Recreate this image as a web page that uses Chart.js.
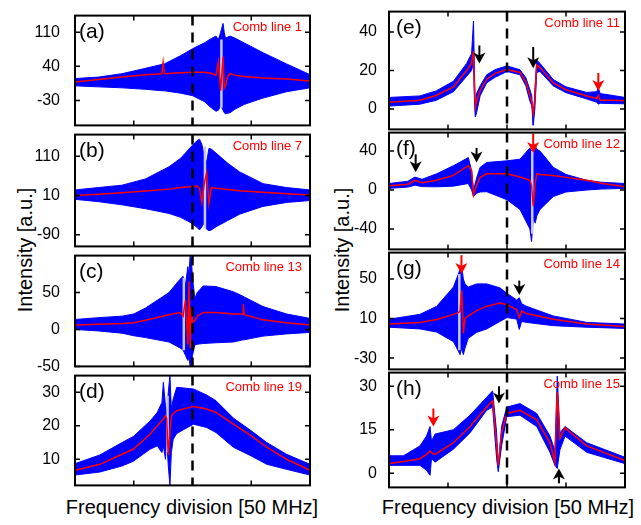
<!DOCTYPE html>
<html>
<head>
<meta charset="utf-8">
<script src="https://cdn.jsdelivr.net/npm/chart.js@4.4.1/dist/chart.umd.min.js"></script>
<style>
  body { margin: 0; background: #fff; width: 641px; height: 525px; overflow: hidden; position: relative;
         font-family: "Liberation Sans", Arial, sans-serif; }
  canvas { position: absolute; }
  .lbl { position: absolute; white-space: nowrap; font-size: 20px; color: #000; line-height: 24px; }
  .ylab { transform: translate(-50%, -50%) rotate(-90deg); }
  .xlab { transform: translateX(-50%); }
</style>
</head>
<body>
<div class="lbl ylab" style="left:25px; top:250px">Intensity [a.u.]</div>
<div class="lbl ylab" style="left:342px; top:250px">Intensity [a.u.]</div>
<div class="lbl xlab" style="left:192px; top:495px">Frequency division [50 MHz]</div>
<div class="lbl xlab" style="left:508px; top:495px">Frequency division [50 MHz]</div>
<script>
// x positions are in frequency divisions (0..100 across the panel), y in a.u.
// blue band = upper / lower envelope of the beat signal, red = averaged trace

// (a) comb line 1
const xA   = [0, 10, 20, 30, 37, 37.5, 38, 45, 50, 55, 58, 60, 61, 62, 63, 63.5, 64, 65, 66, 68, 72, 80, 90, 100];
const upA  = [15, 18, 25, 36, 44, 45, 45, 62, 76, 88, 97, 102, 95, 110, 128, 110, 98, 100, 102, 98, 88, 68, 45, 23];
const loA  = [0, -2, -4, -7, -10, -10, -10, -15, -20, -32, -45, -52, -50, -40, -50, -55, -57, -56, -55, -48, -38, -25, -12, -4];
const redA = [8, 13, 18, 23, 25, 48, 25, 27, 28, 28, 26, 22, 50, -10, 60, -5, 0, 20, 25, 22, 19, 16, 14, 10];

// (b) comb line 7
const xB   = [0, 10, 20, 30, 40, 45, 50, 52, 53, 54, 55, 56, 57, 58, 60, 65, 70, 80, 90, 100];
const upB  = [24, 30, 36, 52, 83, 105, 138, 150, 153, 140, 110, 95, 130, 128, 118, 92, 70, 40, 30, 24];
const loB  = [0, -6, -14, -24, -36, -46, -62, -72, -78, -70, -60, -76, -80, -78, -70, -54, -38, -18, -8, -3];
const redB = [10, 13, 17, 21, 26, 30, 33, 34, 28, -8, 40, 68, -10, 30, 28, 25, 22, 18, 14, 11];

// (c) comb line 13
const xC   = [0, 10, 20, 25, 30, 40, 44.7, 46, 47, 48, 48.5, 49, 49.5, 50, 51, 52, 54.6, 60, 67.4, 71.5, 71.6, 72, 80, 90, 100];
const upC  = [13.5, 16, 18, 21, 29, 50, 68, 72, 60, 85, 75, 100, 95, 70, 42, 50, 59, 58, 51, 45, 45, 44, 31, 21, 15];
const loC  = [0, -2, -5, -8.5, -11, -17, -25, -28, -35, -42, -38, -50, -50, -35, -21, -20, -19, -18, -17, -14, -14, -14, -9, -6, -4];
const redC = [6, 7, 8, 9, 12.5, 20, 23, 18, 40, -20, 65, -25, 30, 10, 12, 18, 23, 23, 21, 21, 34, 20, 13, 9, 6];

// (d) comb line 19
const xD   = [0, 10.6, 20, 24.8, 31.9, 35, 37, 37.6, 38.5, 39, 39.7, 40.4, 41, 41.8, 43.3, 50.4, 56, 60, 67.4, 75, 81.6, 90, 100];
const upD  = [8.7, 11.3, 15, 16.8, 21.4, 24, 27, 33, 26, 24, 30, 35, 25, 28, 31.5, 31, 29.2, 27.5, 22.3, 18.5, 15, 11.5, 8.5];
const loD  = [5.3, 6.2, 8, 9.4, 13, 14, 12, 14, 10, 16, 8, 2.2, 12, 16, 17.7, 20.5, 19.5, 18, 13.6, 11, 8.5, 7, 5.3];
const redD = [6.7, 8.5, 11.5, 13, 17.5, 20, 21.5, 22, 23, 22.3, 11.3, 18, 23, 23.7, 24.5, 25.8, 25, 24, 20.5, 17, 13.6, 10, 6.7];

// (e) comb line 11
const xE   = [0, 13.1, 20, 27.3, 32.9, 35, 35.8, 36.2, 36.6, 37.1, 38.6, 41.4, 45, 50, 55.5, 58, 59.7, 60.5, 61.1, 61.8, 62.6, 64, 69.6, 75, 83.8, 88, 88.7, 89.5, 95, 100];
const upE  = [6, 6.8, 9.4, 14.4, 23.7, 28.8, 45.7, 20, -4, 8, 12, 17.8, 20.5, 22.4, 20.4, 16.2, 10, 6.8, -8.4, 10, 25.4, 23.7, 15.3, 11.5, 8.6, 9, 11, 8, 7, 6];
const loE  = [1.5, 2.5, 4.5, 9, 17, 20, 24, 5, -4, -2, 6.8, 13.6, 16.5, 19.5, 17.8, 12, 4, 1.8, -8.4, 0, 19, 19.5, 12, 8.5, 5.2, 3.5, 2.5, 3, 2.8, 2.7];
const redE = [3.5, 4.5, 7, 11.5, 20, 24, 30, 12, 1, 4, 9.5, 15.5, 18.5, 20.5, 19, 14, 7, 4, -2, 5, 23, 21.5, 13.5, 10, 6.8, 5.5, 7, 4.5, 4.5, 4.3];

// (f) comb line 12
const xF   = [0, 8, 11, 14, 20.2, 27.3, 33.6, 35, 35.8, 37.1, 38.6, 41.4, 50, 55.5, 59.7, 60.4, 61.1, 62, 62.6, 64, 69.6, 75, 83.8, 90, 100];
const upF  = [6.7, 9, 13.3, 11, 16.7, 25, 33.3, 20, 0, 12, 23.3, 28.3, 30, 31.7, 43.3, 40, 35, 45, 42, 40, 23.3, 16, 10, 8, 6.7];
const loF  = [1.7, 3, 5, 3.5, 3.3, 4, 6.7, 0, -6.7, -3.3, -2, -1.7, -10, -20, -40, -53, -30, -34, -26.7, -20, -6.7, -2, 0, 1, 1.7];
const redF = [4.3, 6, 10, 7.5, 10, 15, 25, 20, -5, 5, 13, 16.7, 16.7, 13.3, 10, 5, -16.7, 8, 16.7, 16, 15, 13, 10, 7, 3.3];

// (g) comb line 14
const xG   = [0, 13.1, 20.2, 27.3, 29.4, 30.1, 30.8, 31.5, 32.2, 33.6, 37.1, 41.4, 47, 50, 54.1, 55.2, 56.2, 58.3, 69.6, 83.8, 100];
const upG  = [9.3, 14.2, 22.3, 41.8, 54.9, 60, 63, 50, 45, 41.8, 45, 45, 41, 35.4, 28.8, 31, 25, 22.3, 12.6, 6.1, 4.4];
const loG  = [1.2, -0.5, -3.7, -13.4, -23, -26.5, -20, -26.5, -20, -10, -4, -0.5, 7, 11, 9.4, -1, 7, 6.1, 2.8, 1.2, 0];
const redG = [4.4, 6.1, 9, 14.2, 16, 17.5, 38.6, -5, 10, 12.6, 18, 22.3, 25.6, 24, 19, 11, 17.5, 15, 9.3, 4.4, 2];

// (h) comb line 15
const xH   = [0, 6.1, 13.1, 15.9, 17.4, 18, 19.5, 27.3, 34.3, 41.4, 43.9, 45.6, 46.3, 47.7, 49.9, 55.5, 62.6, 68.2, 70.3, 71.3, 72.4, 74.6, 83.8, 100];
const upH  = [6, 6, 9.4, 12.8, 16.1, 11, 13.5, 15, 20, 26.2, 28.4, 14, 2, 16.1, 22.8, 24, 20.6, 12.8, 7.7, 33.5, 13.9, 16.1, 10.5, 5.5];
const loH  = [2.7, 2.7, 2.7, 1, -0.7, 5, 3.8, 8.3, 13.9, 21.7, 22.8, 5, 0.5, 9.4, 19.5, 20, 16.1, 7.2, 2.7, 1.6, 8, 12.8, 7.2, 3.3];
const redH = [3.3, 4, 5, 6.5, 7.7, 7, 6.5, 10.5, 16.1, 22.8, 25, 10, 2.7, 14, 20.6, 21.7, 18.4, 10.5, 3.8, 28, 12, 15.6, 9.4, 4.4];

// pale streaks where the beat trace saturates: [x, low, high]
const paleA = [[62.3, -45, 95]];
const paleB = [[55.3, -75, 135]];
const paleC = [[46.3, -28, 70]];
const paleD = [[39.4, 12, 29]];
const paleF = [[60.7, -45, 40]];
const paleG = [[29.8, -22, 55]];

// y tick values per panel
const ytA = [-30, 40, 110], ytB = [-90, 10, 110], ytC = [-50, 0, 50], ytD = [10, 20, 30];
const ytE = [0, 20, 40], ytF = [-40, 0, 40], ytG = [-30, 10, 50], ytH = [0, 15, 30];
const xTicks = [25, 50, 75];
const centerX = 50;

// arrows marking the avoided crossings: [x, from y, to y (tip), colour]
const arrowsE = [[38.3, 33, 23.7, "k"], [61.1, 32.2, 21.2, "k"], [88.7, 18.7, 9.4, "r"]];
const arrowsF = [[11.3, 36.7, 18.3, "k"], [37.1, 43.3, 28.3, "k"], [61.1, 58, 38, "r"]];
const arrowsG = [[30.7, 74, 54.9, "r"], [55.2, 48.3, 33.7, "k"]];
const arrowsH = [[18.8, 22.3, 16.1, "r"], [46.6, 30, 24, "k"], [72, -3.5, 1.6, "k"]];

const FONT = "'Liberation Sans', Arial, sans-serif";
const LAB = 70, PADT = 12, PADR = 10;

const frame = {
  id: "frame",
  afterDatasetsDraw(chart, args, o) {
    const { ctx, chartArea: a, scales: { x, y } } = chart;
    ctx.save();
    // dashed centre line
    ctx.strokeStyle = "#000";
    ctx.lineWidth = 2.5;
    ctx.setLineDash([10, 7]);
    const cx = x.getPixelForValue(centerX);
    ctx.beginPath(); ctx.moveTo(cx, a.top); ctx.lineTo(cx, a.bottom); ctx.stroke();
    ctx.setLineDash([]);

    // arrows
    (o.arrows || []).forEach(([ax, y0, y1, c]) => {
      const col = c === "r" ? "#f00" : "#000";
      const px = x.getPixelForValue(ax), p0 = y.getPixelForValue(y0), p1 = y.getPixelForValue(y1);
      const d = p1 > p0 ? 1 : -1;
      ctx.strokeStyle = col; ctx.fillStyle = col; ctx.lineWidth = 2;
      ctx.beginPath(); ctx.moveTo(px, p0); ctx.lineTo(px, p1 - d * 7); ctx.stroke();
      ctx.beginPath();
      ctx.moveTo(px, p1);
      ctx.lineTo(px - 6, p1 - d * 11);
      ctx.lineTo(px, p1 - d * 8);
      ctx.lineTo(px + 6, p1 - d * 11);
      ctx.closePath(); ctx.fill();
    });

    // frame and inward ticks
    ctx.strokeStyle = "#000";
    ctx.lineWidth = 2;
    ctx.strokeRect(a.left, a.top, a.width, a.height);
    ctx.lineWidth = 1.5;
    ctx.beginPath();
    xTicks.forEach(v => {
      const px = x.getPixelForValue(v);
      ctx.moveTo(px, a.top); ctx.lineTo(px, a.top + 5);
      ctx.moveTo(px, a.bottom); ctx.lineTo(px, a.bottom - 5);
    });
    y.ticks.forEach(t => {
      const py = y.getPixelForValue(t.value);
      ctx.moveTo(a.left, py); ctx.lineTo(a.left + 5, py);
      ctx.moveTo(a.right, py); ctx.lineTo(a.right - 5, py);
    });
    ctx.stroke();

    // panel letter and comb line tag
    ctx.fillStyle = "#000";
    ctx.font = "21px " + FONT;
    ctx.textBaseline = "middle";
    ctx.textAlign = "left";
    ctx.fillText(o.tag, a.left + o.tagDx, a.top + 17);
    ctx.fillStyle = "#f00";
    ctx.font = "13px " + FONT;
    ctx.textAlign = "right";
    ctx.fillText(o.comb, a.right - o.combDx, a.top + 12);
    ctx.restore();
  }
};

const pts = (xs, ys) => xs.map((v, i) => ({ x: v, y: ys[i] }));
const streaks = list => list.flatMap(([sx, lo, hi]) => [{ x: sx, y: lo }, { x: sx, y: hi }, { x: sx, y: null }]);

const panels = [
  { tag: "(a)", comb: "Comb line 1",  xs: xA, up: upA, lo: loA, red: redA, yt: ytA, pale: paleA, min: -81,  max: 144,  left: 75,  top: 11,  w: 235, h: 119 },
  { tag: "(b)", comb: "Comb line 7",  xs: xB, up: upB, lo: loB, red: redB, yt: ytB, pale: paleB, min: -120, max: 165,  left: 75,  top: 130, w: 235, h: 121 },
  { tag: "(c)", comb: "Comb line 13", xs: xC, up: upC, lo: loC, red: redC, yt: ytC, pale: paleC, min: -50,  max: 100,  left: 75,  top: 251, w: 235, h: 120 },
  { tag: "(d)", comb: "Comb line 19", xs: xD, up: upD, lo: loD, red: redD, yt: ytD, pale: paleD, min: 2.2,  max: 35,   left: 75,  top: 371, w: 235, h: 119 },
  { tag: "(e)", comb: "Comb line 11", xs: xE, up: upE, lo: loE, red: redE, yt: ytE, pale: [],    min: -10.6, max: 50.6, left: 389, top: 10,  w: 236, h: 121, arrows: arrowsE },
  { tag: "(f)", comb: "Comb line 12", xs: xF, up: upF, lo: loF, red: redF, yt: ytF, pale: paleF, min: -61,  max: 59,   left: 389, top: 131, w: 236, h: 120, arrows: arrowsF },
  { tag: "(g)", comb: "Comb line 14", xs: xG, up: upG, lo: loG, red: redG, yt: ytG, pale: paleG, min: -41.4, max: 76.6, left: 389, top: 251, w: 236, h: 120, arrows: arrowsG },
  { tag: "(h)", comb: "Comb line 15", xs: xH, up: upH, lo: loH, red: redH, yt: ytH, pale: [],    min: -4.9, max: 34.7, left: 389, top: 371, w: 236, h: 118, arrows: arrowsH }
];

panels.forEach((p, i) => {
  const right = i >= 4;
  const cv = document.createElement("canvas");
  const W = p.w + LAB + PADR, H = p.h + PADT * 2;
  cv.width = W; cv.height = H;
  cv.style.left = (p.left - LAB) + "px";
  cv.style.top = (p.top - PADT) + "px";
  cv.style.width = W + "px"; cv.style.height = H + "px";
  document.body.appendChild(cv);

  new Chart(cv, {
    type: "line",
    data: {
      datasets: [
        { data: pts(p.xs, p.red), borderColor: "#ff0000", borderWidth: 1.5, fill: false },
        { data: streaks(p.pale), borderColor: "#c4c8ff", borderWidth: 2.5, fill: false, spanGaps: false },
        { data: pts(p.xs, p.up), borderColor: "#0000ff", backgroundColor: "#0000ff", borderWidth: 1, fill: "+1" },
        { data: pts(p.xs, p.lo), borderColor: "#0000ff", borderWidth: 1, fill: false }
      ]
    },
    options: {
      responsive: false,
      animation: false,
      events: [],
      elements: { point: { radius: 0 }, line: { tension: 0 } },
      layout: { padding: { top: PADT, bottom: PADT, left: 0, right: PADR } },
      plugins: {
        legend: { display: false },
        tooltip: { enabled: false },
        frame: { tag: p.tag, comb: p.comb, arrows: p.arrows, tagDx: right ? 7 : 4, combDx: right ? 5 : 8 }
      },
      scales: {
        x: { type: "linear", min: 0, max: 100, display: false },
        y: {
          min: p.min, max: p.max,
          afterFit: s => { s.width = LAB; },
          afterBuildTicks: s => { s.ticks = p.yt.map(v => ({ value: v })); },
          grid: { display: false },
          border: { display: false },
          ticks: { color: "#000", padding: right ? 4 : 7, font: { family: FONT, size: 16 } }
        }
      }
    },
    plugins: [frame]
  });
});
</script>
</body>
</html>
